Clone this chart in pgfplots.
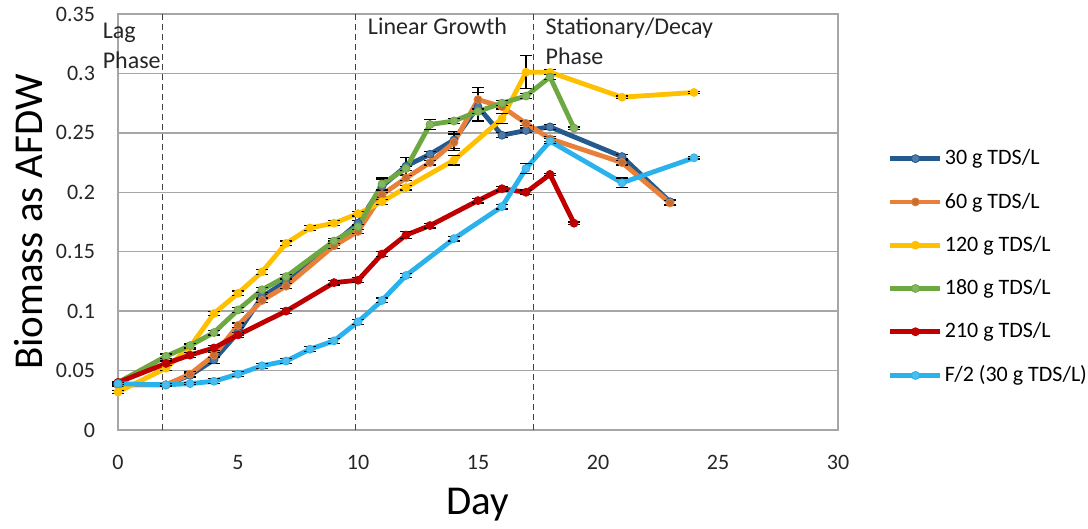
\documentclass[border=0pt]{standalone}
\usepackage{pgfplots}
\pgfplotsset{compat=1.18}
\usepackage{fontspec}
\setmainfont{Carlito}
\definecolor{cBlue}{HTML}{255A8F}
\definecolor{cOrange}{HTML}{E9803A}
\definecolor{cYellow}{HTML}{FFC000}
\definecolor{cGreen}{HTML}{6EA843}
\definecolor{cRed}{HTML}{C00000}
\definecolor{cLight}{HTML}{2AB2EC}
\definecolor{gridgray}{HTML}{A6A6A6}
\begin{document}
\begin{tikzpicture}
\path[use as bounding box] (-59pt,-49.5pt) rectangle (485pt,215pt);
\begin{axis}[
  scale only axis, width=360pt, height=208pt,
  xmin=0, xmax=30, ymin=0, ymax=0.35,
  xtick={0,5,10,15,20,25,30},
  ytick={0,0.05,0.1,0.15,0.2,0.25,0.3,0.35},
  yticklabels={0,0.05,0.1,0.15,0.2,0.25,0.3,0.35},
  scaled y ticks=false,
  /pgf/number format/assume math mode=true,
  ymajorgrids, grid style={gridgray, line width=0.7pt},
  axis line style={gridgray, line width=0.8pt},
  major tick length=0pt,
  tick label style={font=\fontsize{11pt}{13pt}\selectfont, text=black!85},
  yticklabel style={xshift=-8pt},
  xticklabel style={yshift=-9pt},
  xlabel={Day}, ylabel={Biomass as AFDW},
  label style={font=\fontsize{20.5pt}{23pt}\selectfont},
  xlabel style={at={(axis description cs:0.5,-0.18)}, anchor=center},
  ylabel style={at={(axis description cs:-0.1236,0.5)}, anchor=center},
  clip=false,
  legend style={draw=none, fill=none, at={(1.069,0.68)}, anchor=north west,
    font=\fontsize{11pt}{13pt}\selectfont, row sep=10.5pt, inner sep=0pt,
    nodes={inner sep=1pt}},
  legend cell align=left,
  legend image code/.code={\draw[mark repeat=2,mark phase=2] plot coordinates {(0pt,0pt) (12.5pt,0pt) (25pt,0pt)};},
  every axis plot/.append style={line width=2.4pt, mark=*, mark size=2pt,
    error bars/y dir=both, error bars/y explicit,
    error bars/error bar style={black, line width=0.6pt},
    error bars/error mark options={rotate=90, mark size=3pt, black, line width=0.6pt}},
]
\addplot[cBlue, mark options={fill=cBlue!80!white, line width=0.4pt}] table[x=x, y=y, y error=e] {
x y e
0 0.038 0.001
2 0.038 0.001
3 0.046 0.002
4 0.059 0.003
5 0.082 0.002
6 0.112 0.002
7 0.125 0.002
9 0.157 0.002
10 0.174 0.002
11 0.205 0.006
12 0.222 0.007
13 0.232 0.002
14 0.244 0.007
15 0.272 0.012
16 0.248 0.002
17 0.252 0.002
18 0.255 0.002
21 0.230 0.002
23 0.192 0.002
};
\addlegendentry{30 g TDS/L}
\addplot[cOrange, mark options={fill=cOrange!85!black, line width=0.4pt}] table[x=x, y=y, y error=e] {
x y e
0 0.038 0.001
2 0.038 0.001
3 0.047 0.002
4 0.063 0.002
5 0.088 0.002
6 0.109 0.002
7 0.121 0.002
9 0.155 0.002
10 0.167 0.002
11 0.198 0.002
12 0.212 0.002
13 0.225 0.002
14 0.242 0.007
15 0.278 0.010
16 0.272 0.002
17 0.258 0.002
18 0.245 0.002
21 0.225 0.002
23 0.191 0.002
};
\addlegendentry{60 g TDS/L}
\addplot[cYellow, mark options={fill=cYellow, line width=0.4pt}] table[x=x, y=y, y error=e] {
x y e
0 0.032 0.001
2 0.052 0.002
3 0.070 0.002
4 0.098 0.002
5 0.115 0.002
6 0.133 0.002
7 0.157 0.002
8 0.170 0.002
9 0.174 0.002
10 0.182 0.002
11 0.192 0.002
12 0.204 0.002
14 0.227 0.004
16 0.262 0.004
17 0.301 0.014
18 0.301 0.002
21 0.280 0.001
24 0.284 0.001
};
\addlegendentry{120 g TDS/L}
\addplot[cGreen, mark options={fill=cGreen!85!white, line width=0.4pt}] table[x=x, y=y, y error=e] {
x y e
0 0.040 0.001
2 0.062 0.002
3 0.071 0.002
4 0.082 0.002
5 0.101 0.002
6 0.118 0.002
7 0.129 0.002
9 0.159 0.002
10 0.171 0.002
11 0.207 0.005
12 0.220 0.002
13 0.257 0.004
14 0.260 0.002
15 0.268 0.002
16 0.275 0.002
17 0.281 0.002
18 0.297 0.002
19 0.254 0.001
};
\addlegendentry{180 g TDS/L}
\addplot[cRed, mark options={fill=cRed, line width=0.4pt}] table[x=x, y=y, y error=e] {
x y e
0 0.040 0.001
2 0.056 0.002
3 0.063 0.002
4 0.069 0.002
5 0.080 0.002
7 0.100 0.002
9 0.124 0.002
10 0.126 0.002
11 0.148 0.002
12 0.164 0.003
13 0.172 0.002
15 0.193 0.002
16 0.203 0.002
17 0.200 0.002
18 0.215 0.001
19 0.174 0.001
};
\addlegendentry{210 g TDS/L}
\addplot[cLight, mark options={fill=cLight!85!white, line width=0.4pt}] table[x=x, y=y, y error=e] {
x y e
0 0.039 0.001
2 0.038 0.001
3 0.039 0.001
4 0.041 0.002
5 0.047 0.002
6 0.054 0.002
7 0.058 0.002
8 0.068 0.002
9 0.075 0.002
10 0.091 0.002
11 0.109 0.002
12 0.130 0.002
14 0.161 0.002
16 0.188 0.002
17 0.220 0.004
18 0.243 0.002
21 0.208 0.004
24 0.229 0.001
};
\addlegendentry{F/2 (30 g TDS/L)}
\addplot[black!75, densely dashed, line width=0.6pt, mark=none, forget plot, error bars/y dir=none] coordinates {(1.86,0) (1.86,0.35)};
\addplot[black!75, densely dashed, line width=0.6pt, mark=none, forget plot, error bars/y dir=none] coordinates {(9.88,0) (9.88,0.35)};
\addplot[black!75, densely dashed, line width=0.6pt, mark=none, forget plot, error bars/y dir=none] coordinates {(17.3,0) (17.3,0.35)};
\node[anchor=north west, inner sep=0pt, align=left, font=\fontsize{12pt}{15pt}\selectfont, text=black!85] at (axis cs:-0.65,0.343) {Lag\\Phase};
\node[anchor=north west, inner sep=0pt, align=left, font=\fontsize{12pt}{15pt}\selectfont, text=black!85] at (axis cs:10.4,0.347) {Linear Growth};
\node[anchor=north west, inner sep=0pt, align=left, font=\fontsize{12pt}{15pt}\selectfont, text=black!85] at (axis cs:17.8,0.347) {Stationary/Decay\\Phase};
\end{axis}
\end{tikzpicture}
\end{document}
